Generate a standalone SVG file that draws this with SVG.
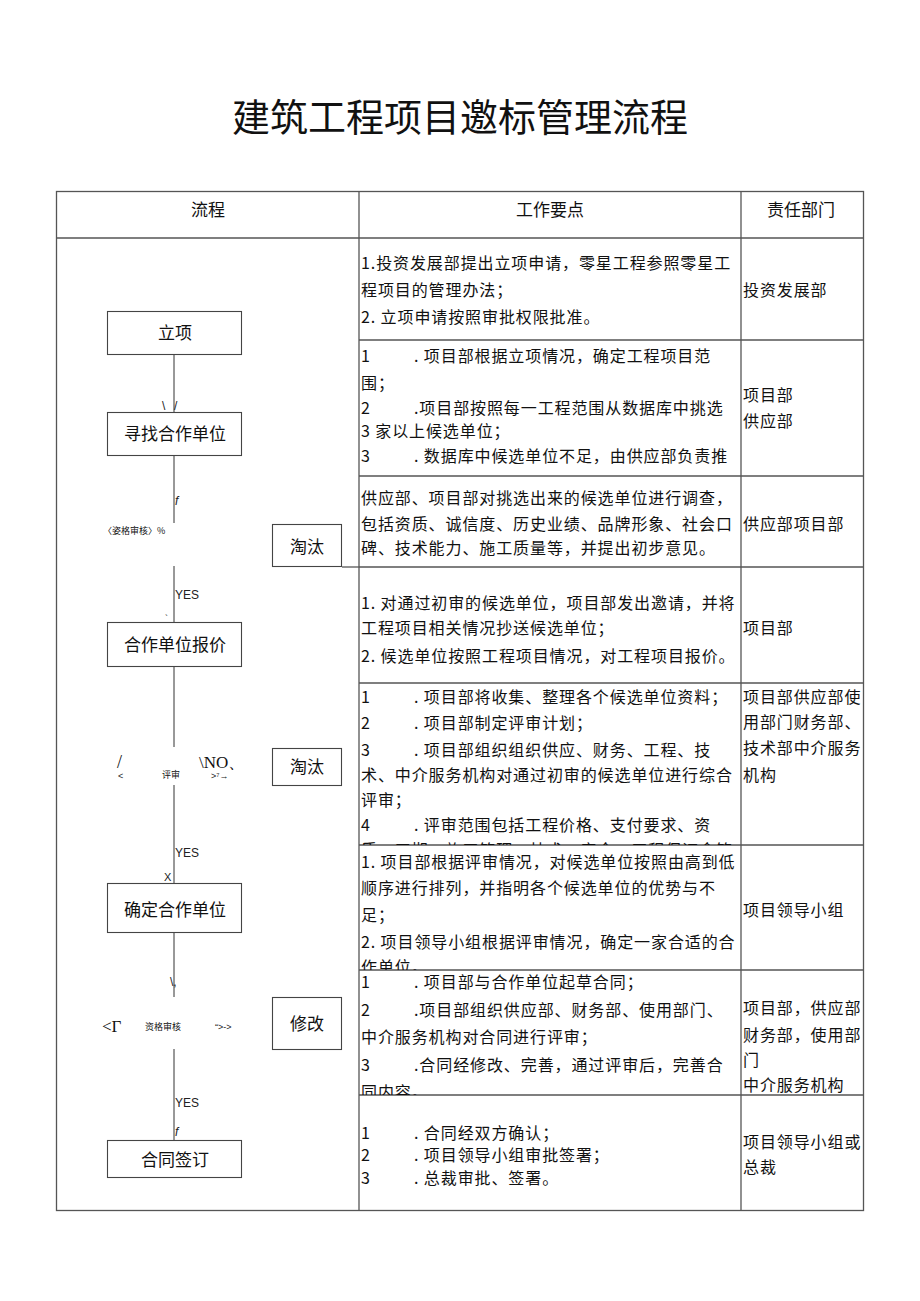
<svg xmlns="http://www.w3.org/2000/svg" width="920" height="1301" viewBox="0 0 920 1301">
<style>
.cjk{font-family:"Noto Sans CJK SC","Noto Sans",sans-serif;fill:#111}
.t{font-size:16px;letter-spacing:0.9px}
.h{font-size:17px;text-anchor:middle}
.bx{fill:#fff;stroke:#444;stroke-width:1.1}
.bt{font-size:17px;text-anchor:middle}
.grid{stroke:#555;stroke-width:1.3;fill:none}
.ln{stroke:#333;stroke-width:1;fill:none}
.sm{font-family:"Liberation Sans",sans-serif;fill:#222}
.sr{font-family:"Liberation Serif",serif;fill:#111}
</style>
<defs>
<clipPath id="c2"><rect x="360" y="341" width="380" height="135"/></clipPath>
<clipPath id="c5"><rect x="360" y="684" width="380" height="161"/></clipPath>
<clipPath id="c6"><rect x="360" y="846" width="380" height="124"/></clipPath>
<clipPath id="c7"><rect x="360" y="971" width="380" height="124"/></clipPath>
</defs>
<rect width="920" height="1301" fill="#fff"/>
<text class="cjk" x="460" y="131" font-size="38" text-anchor="middle">建筑工程项目邀标管理流程</text>
<g id="table">
<rect class="grid" x="56.5" y="191.5" width="807" height="1019"/>
<line class="grid" x1="56" y1="238" x2="864" y2="238"/>
<line class="grid" x1="359" y1="191" x2="359" y2="1211"/>
<line class="grid" x1="741" y1="191" x2="741" y2="1211"/>
<line class="grid" x1="359" y1="340" x2="864" y2="340"/>
<line class="grid" x1="359" y1="476" x2="864" y2="476"/>
<line class="grid" x1="359" y1="567" x2="864" y2="567"/>
<line class="grid" x1="359" y1="683" x2="864" y2="683"/>
<line class="grid" x1="359" y1="845" x2="864" y2="845"/>
<line class="grid" x1="359" y1="970" x2="864" y2="970"/>
<line class="grid" x1="359" y1="1095" x2="864" y2="1095"/>
<text class="cjk h" x="208" y="216">流程</text>
<text class="cjk h" x="550" y="216">工作要点</text>
<text class="cjk h" x="801" y="216">责任部门</text>
</g>
<g id="notes" class="cjk t">
<text x="361" y="269">1.投资发展部提出立项申请，零星工程参照零星工</text>
<text x="361" y="296">程项目的管理办法；</text>
<text x="361" y="323">2. 立项申请按照审批权限批准。</text>
<g clip-path="url(#c2)">
<text x="361" y="362">1</text><text x="414" y="362">. 项目部根据立项情况，确定工程项目范</text>
<text x="361" y="389">围；</text>
<text x="361" y="414">2</text><text x="414" y="414">.项目部按照每一工程范围从数据库中挑选</text>
<text x="361" y="437">3 家以上候选单位；</text>
<text x="361" y="462">3</text><text x="414" y="462">. 数据库中候选单位不足，由供应部负责推</text>
</g>
<text x="361" y="504">供应部、项目部对挑选出来的候选单位进行调查，</text>
<text x="361" y="530">包括资质、诚信度、历史业绩、品牌形象、社会口</text>
<text x="361" y="554">碑、技术能力、施工质量等，并提出初步意见。</text>
<text x="361" y="609">1. 对通过初审的候选单位，项目部发出邀请，并将</text>
<text x="361" y="634">工程项目相关情况抄送候选单位；</text>
<text x="361" y="662">2. 候选单位按照工程项目情况，对工程项目报价。</text>
<g clip-path="url(#c5)">
<text x="361" y="703">1</text><text x="414" y="703">. 项目部将收集、整理各个候选单位资料；</text>
<text x="361" y="729">2</text><text x="414" y="729">. 项目部制定评审计划；</text>
<text x="361" y="756">3</text><text x="414" y="756">. 项目部组织组织供应、财务、工程、技</text>
<text x="361" y="781">术、中介服务机构对通过初审的候选单位进行综合</text>
<text x="361" y="806">评审；</text>
<text x="361" y="831">4</text><text x="414" y="831">. 评审范围包括工程价格、支付要求、资</text>
<text x="361" y="856">质、工期、施工管理、技术、安全、工程保证金管</text>
</g>
<g clip-path="url(#c6)">
<text x="361" y="868">1. 项目部根据评审情况，对候选单位按照由高到低</text>
<text x="361" y="894">顺序进行排列，并指明各个候选单位的优势与不</text>
<text x="361" y="921">足；</text>
<text x="361" y="948">2. 项目领导小组根据评审情况，确定一家合适的合</text>
<text x="361" y="973">作单位。</text>
</g>
<g clip-path="url(#c7)">
<text x="361" y="988">1</text><text x="414" y="988">. 项目部与合作单位起草合同；</text>
<text x="361" y="1016">2</text><text x="414" y="1016">.项目部组织供应部、财务部、使用部门、</text>
<text x="361" y="1043">中介服务机构对合同进行评审；</text>
<text x="361" y="1071">3</text><text x="414" y="1071">.合同经修改、完善，通过评审后，完善合</text>
<text x="361" y="1098">同内容。</text>
</g>
<text x="361" y="1139">1</text><text x="414" y="1139">. 合同经双方确认；</text>
<text x="361" y="1161">2</text><text x="414" y="1161">. 项目领导小组审批签署；</text>
<text x="361" y="1184">3</text><text x="414" y="1184">. 总裁审批、签署。</text>
</g>
<g id="depts" class="cjk t">
<text x="743" y="296">投资发展部</text>
<text x="743" y="401">项目部</text>
<text x="743" y="427">供应部</text>
<text x="743" y="530">供应部项目部</text>
<text x="743" y="634">项目部</text>
<text x="743" y="703">项目部供应部使</text>
<text x="743" y="728">用部门财务部、</text>
<text x="743" y="754">技术部中介服务</text>
<text x="743" y="781">机构</text>
<text x="743" y="916">项目领导小组</text>
<text x="743" y="1014">项目部，供应部</text>
<text x="743" y="1041">财务部，使用部</text>
<text x="743" y="1066">门</text>
<text x="743" y="1091">中介服务机构</text>
<text x="743" y="1148">项目领导小组或</text>
<text x="743" y="1173">总裁</text>
</g>
<g id="connectors" class="ln">
<line x1="174" y1="355" x2="174" y2="412"/>
<line x1="174" y1="456" x2="174" y2="523"/>
<line x1="174" y1="566" x2="174" y2="622"/>
<line x1="174" y1="667" x2="174" y2="747"/>
<line x1="174" y1="785" x2="174" y2="883"/>
<line x1="174" y1="933" x2="174" y2="997"/>
<line x1="174" y1="1049" x2="174" y2="1140"/>
<line x1="342" y1="567" x2="359" y2="567" stroke="#555" stroke-width="1.3"/>
</g>
<g id="labels">
<text class="sm" x="162" y="410" font-size="12">\</text>
<text class="sm" x="174" y="410" font-size="12">/</text>
<text class="sm" x="175" y="505" font-size="12" font-style="italic">f</text>
<text class="cjk" x="103" y="534" font-size="9">〈姿格审核〉%</text>
<text class="sm" x="175" y="599" font-size="12">YES</text>
<text class="sm" x="165" y="621" font-size="9">`</text>
<text class="sr" x="117" y="768" font-size="18">/</text>
<text class="sm" x="118" y="779" font-size="9">&lt;</text>
<text class="cjk" x="162" y="778" font-size="9">评审</text>
<text class="sr" x="199" y="768" font-size="17">\NO、</text>
<text class="sm" x="211" y="779" font-size="9">&gt;⁷→</text>
<text class="sm" x="175" y="857" font-size="12">YES</text>
<text class="sm" x="164" y="881" font-size="11">X</text>
<text class="sm" x="170" y="986" font-size="12">\,</text>
<text class="sr" x="102" y="1032" font-size="17">&lt;Γ</text>
<text class="cjk" x="145" y="1030" font-size="9">资格审核</text>
<text class="sm" x="215" y="1030" font-size="9">“&gt;-&gt;</text>
<text class="sm" x="175" y="1107" font-size="12">YES</text>
<text class="sm" x="175" y="1136" font-size="12" font-style="italic">f</text>
</g>
<g id="n-lixiang"><rect class="bx" x="107.5" y="311.5" width="134" height="43"/><text class="cjk bt" x="175" y="339">立项</text></g>
<g id="n-xunzhao"><rect class="bx" x="107.5" y="412.5" width="134" height="43"/><text class="cjk bt" x="175" y="440">寻找合作单位</text></g>
<g id="n-taotai1"><rect class="bx" x="272.5" y="524.5" width="69" height="42"/><text class="cjk bt" x="307" y="553">淘汰</text></g>
<g id="n-baojia"><rect class="bx" x="107.5" y="622.5" width="134" height="44"/><text class="cjk bt" x="175" y="651">合作单位报价</text></g>
<g id="n-taotai2"><rect class="bx" x="272.5" y="748.5" width="69" height="37"/><text class="cjk bt" x="307" y="773">淘汰</text></g>
<g id="n-queding"><rect class="bx" x="107.5" y="883.5" width="134" height="49"/><text class="cjk bt" x="175" y="916">确定合作单位</text></g>
<g id="n-xiugai"><rect class="bx" x="272.5" y="997.5" width="69" height="52"/><text class="cjk bt" x="307" y="1030">修改</text></g>
<g id="n-qianding"><rect class="bx" x="107.5" y="1140.5" width="134" height="37"/><text class="cjk bt" x="175" y="1166">合同签订</text></g>
</svg>
